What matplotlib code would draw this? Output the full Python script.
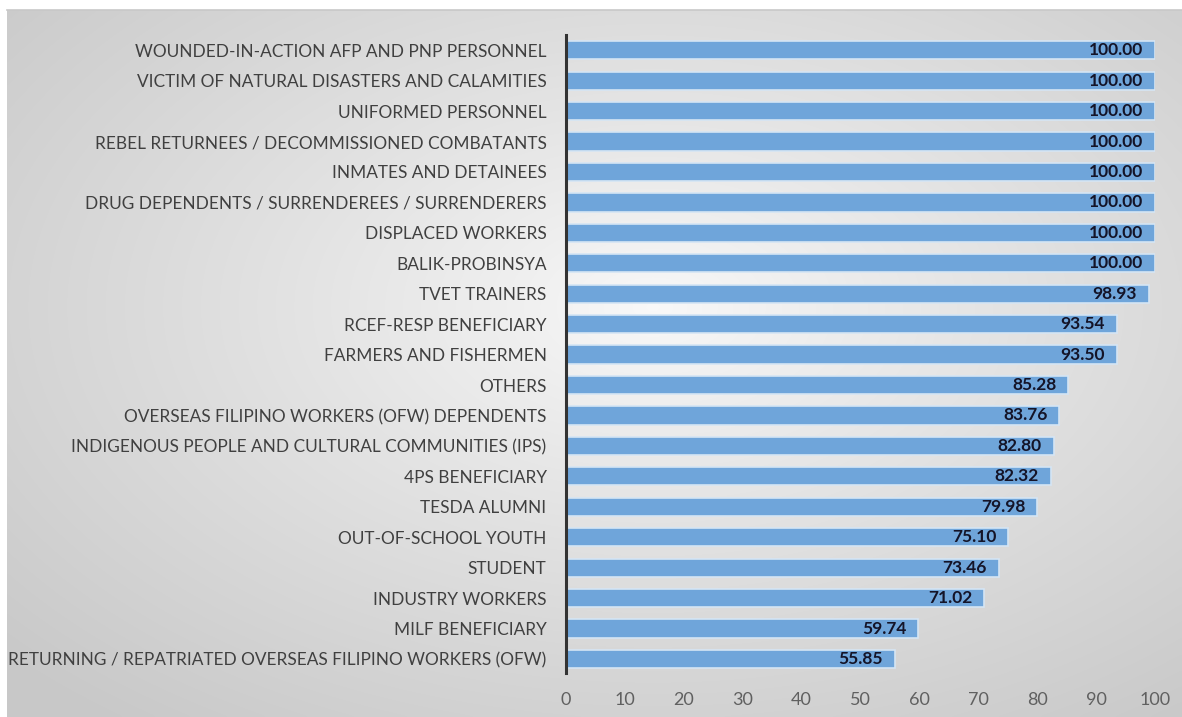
import matplotlib.pyplot as plt
import numpy as np

categories = [
    "RETURNING / REPATRIATED OVERSEAS FILIPINO WORKERS (OFW)",
    "MILF BENEFICIARY",
    "INDUSTRY WORKERS",
    "STUDENT",
    "OUT-OF-SCHOOL YOUTH",
    "TESDA ALUMNI",
    "4PS BENEFICIARY",
    "INDIGENOUS PEOPLE AND CULTURAL COMMUNITIES (IPS)",
    "OVERSEAS FILIPINO WORKERS (OFW) DEPENDENTS",
    "OTHERS",
    "FARMERS AND FISHERMEN",
    "RCEF-RESP BENEFICIARY",
    "TVET TRAINERS",
    "BALIK-PROBINSYA",
    "DISPLACED WORKERS",
    "DRUG DEPENDENTS / SURRENDEREES / SURRENDERERS",
    "INMATES AND DETAINEES",
    "REBEL RETURNEES / DECOMMISSIONED COMBATANTS",
    "UNIFORMED PERSONNEL",
    "VICTIM OF NATURAL DISASTERS AND CALAMITIES",
    "WOUNDED-IN-ACTION AFP AND PNP PERSONNEL",
]
values = [55.85, 59.74, 71.02, 73.46, 75.10, 79.98, 82.32, 82.80, 83.76, 85.28,
          93.50, 93.54, 98.93, 100.00, 100.00, 100.00, 100.00, 100.00, 100.00,
          100.00, 100.00]
xticks = list(range(0, 101, 10))

plt.rcParams['font.family'] = ['Lato', 'DejaVu Sans']

W, H = 1182, 717
fig = plt.figure(figsize=(W / 100, H / 100), dpi=100)

# radial grey gradient panel behind the chart
bg = fig.add_axes([7 / W, 0, 1 - 7 / W, 1 - 10 / H])
gx, gy = np.meshgrid(np.linspace(0, 1, 400), np.linspace(0, 1, 300))
r = np.sqrt(((gx - 0.55) / 0.75) ** 2 + ((gy - 0.42) / 0.75) ** 2)
r = np.clip(r, 0, 1)
shade = 0.975 - 0.19 * r ** 0.9
bg.imshow(np.dstack([shade] * 3), aspect='auto', extent=[0, 1, 0, 1],
          interpolation='bicubic')
bg.set_axis_off()
fig.add_artist(plt.Line2D([7 / W, 1], [1 - 10 / H] * 2, color='#c8c8c8', lw=1.2))

ax = fig.add_axes([566 / W, 1 - 673 / H, (1155 - 566) / W, (673 - 35) / H])
ax.patch.set_visible(False)
y = np.arange(len(categories))
ax.barh(y, values, height=0.6, color='#6fa5da', edgecolor='#d5e5f4', linewidth=1.2)

for yi, v in zip(y, values):
    ax.text(v - 2.0, yi, f"{v:.2f}", ha='right', va='center', fontsize=12.5,
            fontweight='bold', color='#141428')

ax.set_xlim(0, 100)
ax.set_ylim(-0.46, len(categories) - 0.5)
ax.set_yticks(y)
ax.set_yticklabels(categories, fontsize=12.4, color='#404040')
ax.set_xticks(xticks)
ax.set_xticklabels([str(t) for t in xticks], fontsize=13, color='#606060')
ax.tick_params(axis='y', length=0, pad=14)
ax.tick_params(axis='x', length=0, pad=14)
for s in ['top', 'right', 'bottom']:
    ax.spines[s].set_visible(False)
ax.spines['left'].set_color('#333333')
ax.spines['left'].set_linewidth(2.2)

fig.savefig('out.png', dpi=100)
